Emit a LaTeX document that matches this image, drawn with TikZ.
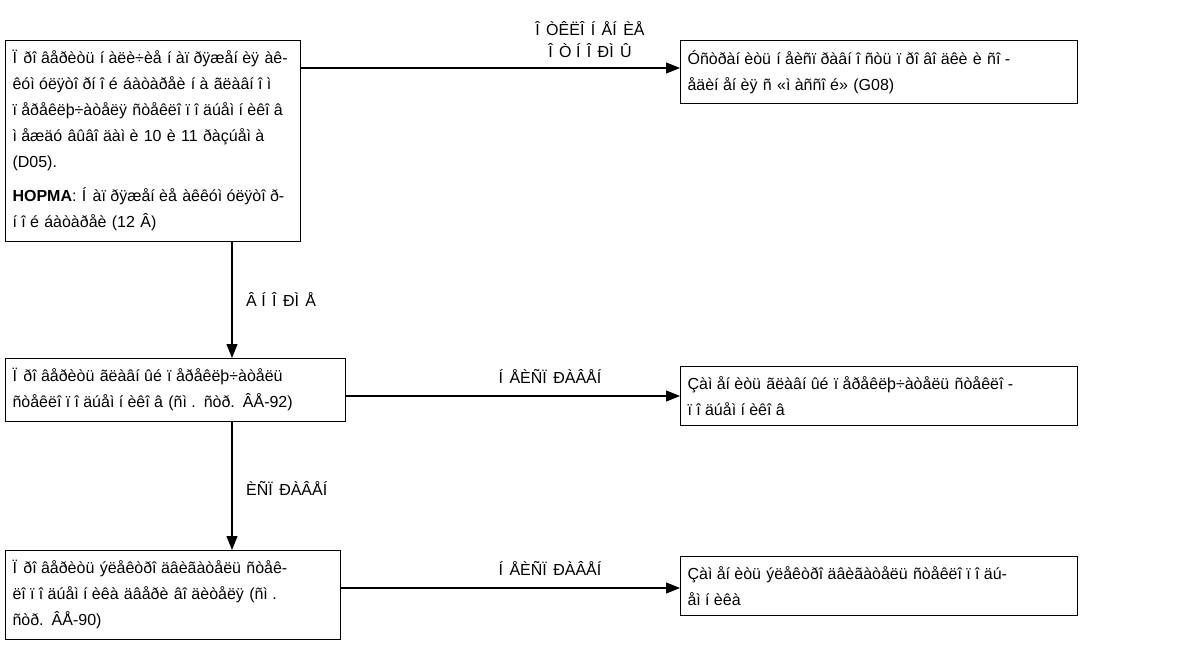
\documentclass[tikz,border=0pt]{standalone}
\usepackage{fontspec}
\setmainfont{Liberation Sans}
\usetikzlibrary{arrows.meta,calc}
\XeTeXinterchartokenstate=1
\XeTeXcharclass`\î=7
\XeTeXcharclass`\í=7
\XeTeXcharclass`\ì=7
\XeTeXcharclass`\ï=7
\XeTeXcharclass`\Î=8
\XeTeXcharclass`\Í=8
\XeTeXcharclass`\Ì=8
\XeTeXcharclass`\Ï=8
\XeTeXinterchartoks 7 0 = {\kern0.27em}
\XeTeXinterchartoks 7 7 = {\kern0.27em}
\XeTeXinterchartoks 7 8 = {\kern0.27em}
\XeTeXinterchartoks 8 0 = {\kern0.4em}
\XeTeXinterchartoks 8 7 = {\kern0.4em}
\XeTeXinterchartoks 8 8 = {\kern0.4em}
\newcommand\jline[1]{\makebox[\hsize][s]{#1}}
\tikzset{
  box/.style={draw, line width=1.1pt, anchor=north west, align=left,
    inner xsep=7pt, inner ysep=10pt, font=\fontsize{16}{26}\selectfont},
  lbl/.style={font=\fontsize{16}{22}\selectfont, inner sep=0pt, align=center},
  arr/.style={line width=1.1pt, -{Triangle[length=14pt,width=11pt]}},
}
\begin{document}
\begin{tikzpicture}[x=1pt,y=-1pt]
\useasboundingbox (0,0) rectangle (1202,653);
\node[box, text width=281pt] (b1) at (5,40) {%
\jline{Ïðîâåðèòü íàëè÷èå íàïðÿæåíèÿ àê-}\\
\jline{êóìóëÿòîðíîé áàòàðåè íà ãëàâíîì}\\
\jline{ïåðåêëþ÷àòåëÿ ñòåêëîïîäúåìíèêîâ}\\
\jline{ìåæäó âûâîäàìè 10 è 11 ðàçúåìà}\\
(D05).\\[8pt]
\jline{\textbf{HOPMA}: Íàïðÿæåíèå àêêóìóëÿòîð-}\\
íîé áàòàðåè (12 Â)};
\node[box, text width=383pt] (b2) at (680,40) {%
\jline{Óñòðàíèòü íåèñïðàâíîñòü ïðîâîäêè è ñî-}\\
åäèíåíèÿ ñ «ìàññîé» (G08)};
\node[box, text width=326pt] (b3) at (5,358) {%
\jline{Ïðîâåðèòü ãëàâíûé ïåðåêëþ÷àòåëü}\\
ñòåêëîïîäúåìíèêîâ (ñì. ñòð. ÂÅ-92)};
\node[box, text width=383pt] (b4) at (680,366) {%
\jline{Çàìåíèòü ãëàâíûé ïåðåêëþ÷àòåëü ñòåêëî-}\\
ïîäúåìíèêîâ};
\node[box, text width=321pt] (b5) at (5,550) {%
\jline{Ïðîâåðèòü ýëåêòðîäâèãàòåëü ñòåê-}\\
\jline{ëîïîäúåìíèêà äâåðè âîäèòåëÿ (ñì.}\\
ñòð. ÂÅ-90)};
\node[box, text width=383pt] (b6) at (680,556) {%
\jline{Çàìåíèòü ýëåêòðîäâèãàòåëü ñòåêëîïîäú-}\\
åìíèêà};
\coordinate (t2) at ($(b2.north west)+(0,28)$);
\coordinate (t4) at ($(b4.north west)+(0,30)$);
\coordinate (t6) at ($(b6.north west)+(0,32)$);
\coordinate (vx) at (232,0);
\draw[arr] (b1.east |- t2) -- (t2);
\draw[arr] (b3.east |- t4) -- (t4);
\draw[arr] (b5.east |- t6) -- (t6);
\draw[arr] (b1.south -| vx) -- (b3.north -| vx);
\draw[arr] (b3.south -| vx) -- (b5.north -| vx);
\node[lbl, anchor=south] (l1) at (590,58) {ÎÒÊËÎÍÅÍÈÅ\\ÎÒ ÍÎÐÌÛ};
\node[lbl, anchor=west] (l2) at (246,300) {Â ÍÎÐÌÅ};
\node[lbl, anchor=south] (l3) at (550,384) {ÍÅÈÑÏÐÀÂÅÍ};
\node[lbl, anchor=west] (l4) at (246,488) {ÈÑÏÐÀÂÅÍ};
\node[lbl, anchor=south] (l5) at (550,576) {ÍÅÈÑÏÐÀÂÅÍ};
\end{tikzpicture}
\end{document}
